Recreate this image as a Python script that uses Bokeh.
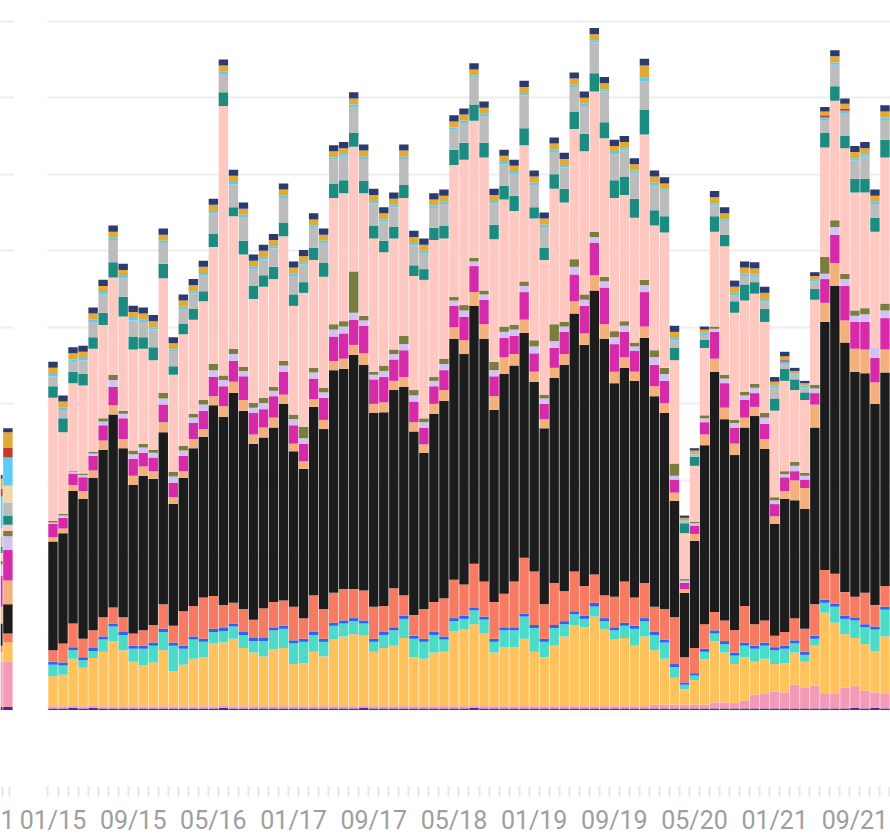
import pandas as pd
from bokeh.plotting import figure
from bokeh.models import (Range1d, FixedTicker, ColumnDataSource, Grid,
                          BoxAnnotation, GlobalInlineStyleSheet)
from bokeh.embed import file_html
from bokeh.resources import INLINE

# ---------------- data ----------------
months = list(pd.date_range("2015-01-01", periods=84, freq="MS").strftime("%m/%y"))
tick_labels = ["01/15", "09/15", "05/16", "01/17", "09/17", "05/18",
               "01/19", "09/19", "05/20", "01/21", "09/21"]

purple = [0.02, 0.02, 0.03, 0.02, 0.03, 0.02, 0.02, 0.02, 0.02, 0.02,
          0.02, 0.02, 0.02, 0.02, 0.02, 0.02, 0.02, 0.03, 0.02, 0.02,
          0.02, 0.02, 0.02, 0.02, 0.02, 0.02, 0.02, 0.02, 0.02, 0.02,
          0.02, 0.03, 0.02, 0.02, 0.02, 0.02, 0.02, 0.02, 0.02, 0.02,
          0.02, 0.02, 0.03, 0.02, 0.02, 0.02, 0.02, 0.02, 0.02, 0.02,
          0.02, 0.02, 0.02, 0.02, 0.02, 0.02, 0.02, 0.02, 0.02, 0.02,
          0.02, 0.02, 0.02, 0.02, 0.02, 0.02, 0.02, 0.02, 0.02, 0.02,
          0.02, 0.02, 0.02, 0.02, 0.02, 0.02, 0.02, 0.02, 0.02, 0.02,
          0.03, 0.02, 0.03, 0.02]
pink = [0.03, 0.03, 0.03, 0.03, 0.03, 0.03, 0.03, 0.03, 0.03, 0.03,
        0.03, 0.03, 0.03, 0.03, 0.03, 0.03, 0.03, 0.03, 0.03, 0.03,
        0.03, 0.03, 0.03, 0.03, 0.03, 0.03, 0.03, 0.03, 0.03, 0.03,
        0.03, 0.03, 0.03, 0.03, 0.03, 0.03, 0.03, 0.03, 0.03, 0.03,
        0.03, 0.03, 0.03, 0.03, 0.03, 0.03, 0.03, 0.03, 0.03, 0.03,
        0.03, 0.03, 0.03, 0.03, 0.03, 0.03, 0.03, 0.03, 0.03, 0.03,
        0.05, 0.05, 0.05, 0.05, 0.05, 0.05, 0.08, 0.08, 0.07, 0.10,
        0.18, 0.19, 0.22, 0.21, 0.31, 0.27, 0.30, 0.20, 0.19, 0.27,
        0.28, 0.23, 0.20, 0.19]
yellow = [0.39, 0.41, 0.61, 0.50, 0.62, 0.71, 0.85, 0.73, 0.58, 0.53,
          0.57, 0.73, 0.46, 0.54, 0.62, 0.64, 0.82, 0.82, 0.88, 0.76,
          0.70, 0.65, 0.74, 0.76, 0.55, 0.56, 0.71, 0.65, 0.87, 0.91,
          0.94, 0.91, 0.71, 0.76, 0.79, 0.89, 0.64, 0.62, 0.70, 0.71,
          0.98, 1.00, 1.06, 0.95, 0.70, 0.77, 0.77, 0.88, 0.71, 0.64,
          0.79, 0.91, 1.06, 1.03, 1.17, 1.00, 0.87, 0.89, 0.79, 0.91,
          0.71, 0.60, 0.35, 0.20, 0.32, 0.59, 0.80, 0.65, 0.51, 0.57,
          0.43, 0.46, 0.36, 0.38, 0.42, 0.34, 0.52, 1.05, 0.93, 0.70,
          0.63, 0.61, 0.54, 0.75]
turquoise = [0.15, 0.12, 0.11, 0.10, 0.09, 0.16, 0.19, 0.20, 0.17, 0.22,
             0.22, 0.24, 0.33, 0.21, 0.25, 0.20, 0.15, 0.15, 0.16, 0.17,
             0.15, 0.20, 0.25, 0.25, 0.27, 0.28, 0.22, 0.19, 0.18, 0.17,
             0.17, 0.16, 0.13, 0.17, 0.20, 0.25, 0.24, 0.22, 0.23, 0.16,
             0.13, 0.14, 0.18, 0.18, 0.14, 0.22, 0.22, 0.29, 0.31, 0.20,
             0.23, 0.16, 0.14, 0.11, 0.13, 0.11, 0.12, 0.16, 0.22, 0.20,
             0.20, 0.21, 0.14, 0.06, 0.06, 0.10, 0.10, 0.11, 0.11, 0.15,
             0.17, 0.17, 0.18, 0.19, 0.12, 0.09, 0.09, 0.13, 0.21, 0.20,
             0.23, 0.22, 0.28, 0.35]
blue = [0.04, 0.04, 0.04, 0.04, 0.04, 0.04, 0.04, 0.04, 0.04, 0.04,
        0.04, 0.04, 0.04, 0.04, 0.04, 0.04, 0.04, 0.04, 0.04, 0.04,
        0.04, 0.04, 0.04, 0.04, 0.04, 0.04, 0.04, 0.04, 0.04, 0.04,
        0.04, 0.04, 0.04, 0.04, 0.04, 0.04, 0.04, 0.04, 0.04, 0.04,
        0.04, 0.04, 0.04, 0.04, 0.04, 0.04, 0.04, 0.04, 0.04, 0.04,
        0.04, 0.04, 0.04, 0.04, 0.05, 0.04, 0.04, 0.04, 0.04, 0.04,
        0.04, 0.04, 0.04, 0.03, 0.03, 0.04, 0.04, 0.04, 0.04, 0.04,
        0.04, 0.04, 0.04, 0.04, 0.04, 0.04, 0.04, 0.04, 0.04, 0.04,
        0.04, 0.04, 0.04, 0.04]
salmon = [0.15, 0.25, 0.31, 0.24, 0.23, 0.25, 0.21, 0.19, 0.16, 0.20,
          0.23, 0.32, 0.22, 0.45, 0.40, 0.54, 0.43, 0.30, 0.27, 0.30,
          0.24, 0.39, 0.33, 0.33, 0.44, 0.27, 0.48, 0.39, 0.39, 0.41,
          0.38, 0.39, 0.42, 0.34, 0.51, 0.27, 0.27, 0.39, 0.39, 0.50,
          0.50, 0.41, 0.57, 0.46, 0.48, 0.44, 0.60, 0.73, 0.70, 0.45,
          0.55, 0.39, 0.52, 0.39, 0.37, 0.30, 0.40, 0.54, 0.37, 0.46,
          0.33, 0.40, 0.61, 0.33, 0.33, 0.32, 0.24, 0.27, 0.29, 0.48,
          0.28, 0.29, 0.15, 0.18, 0.29, 0.30, 0.41, 0.39, 0.39, 0.31,
          0.27, 0.41, 0.28, 0.27]
black = [1.42, 1.44, 1.73, 1.83, 1.99, 2.19, 2.52, 2.21, 1.94, 2.02,
         1.91, 2.25, 1.59, 1.74, 2.06, 2.10, 2.49, 2.46, 2.74, 2.59,
         2.30, 2.23, 2.28, 2.57, 2.03, 1.95, 2.46, 2.35, 2.91, 2.88,
         3.06, 2.95, 2.53, 2.53, 2.59, 2.72, 2.40, 2.04, 2.46, 2.58,
         3.15, 3.01, 3.37, 3.17, 2.51, 2.87, 2.82, 2.94, 2.48, 2.30,
         2.68, 2.96, 3.37, 3.15, 3.71, 3.35, 2.79, 2.79, 2.83, 3.20,
         2.75, 2.56, 1.52, 0.84, 1.40, 2.34, 3.14, 2.63, 2.29, 2.33,
         2.72, 2.24, 1.46, 1.74, 1.54, 1.57, 2.31, 3.24, 3.76, 3.26,
         2.94, 2.87, 2.63, 2.79]
peach = [0.06, 0.06, 0.08, 0.10, 0.10, 0.12, 0.12, 0.12, 0.12, 0.12,
         0.10, 0.13, 0.09, 0.09, 0.12, 0.10, 0.12, 0.14, 0.15, 0.14,
         0.12, 0.13, 0.13, 0.12, 0.10, 0.10, 0.10, 0.12, 0.12, 0.13,
         0.13, 0.15, 0.12, 0.13, 0.12, 0.13, 0.12, 0.11, 0.13, 0.14,
         0.15, 0.18, 0.18, 0.19, 0.18, 0.22, 0.15, 0.17, 0.13, 0.12,
         0.13, 0.14, 0.16, 0.15, 0.20, 0.19, 0.15, 0.14, 0.12, 0.15,
         0.13, 0.13, 0.11, 0.05, 0.09, 0.14, 0.17, 0.15, 0.15, 0.13,
         0.12, 0.13, 0.10, 0.10, 0.26, 0.27, 0.30, 0.25, 0.30, 0.29,
         0.30, 0.31, 0.28, 0.30]
magenta = [0.17, 0.14, 0.15, 0.18, 0.19, 0.20, 0.24, 0.27, 0.22, 0.18,
           0.18, 0.23, 0.19, 0.20, 0.21, 0.24, 0.25, 0.26, 0.27, 0.31,
           0.28, 0.24, 0.28, 0.30, 0.24, 0.23, 0.27, 0.29, 0.32, 0.33,
           0.33, 0.36, 0.32, 0.33, 0.28, 0.35, 0.27, 0.22, 0.23, 0.26,
           0.28, 0.31, 0.34, 0.32, 0.26, 0.25, 0.24, 0.36, 0.24, 0.20,
           0.26, 0.29, 0.35, 0.36, 0.42, 0.48, 0.36, 0.33, 0.27, 0.45,
           0.28, 0.29, 0.17, 0.08, 0.11, 0.16, 0.35, 0.32, 0.21, 0.23,
           0.18, 0.20, 0.16, 0.18, 0.12, 0.11, 0.15, 0.31, 0.37, 0.45,
           0.35, 0.36, 0.32, 0.41]
lavender = [0.02, 0.03, 0.02, 0.03, 0.03, 0.05, 0.09, 0.06, 0.06, 0.07,
            0.06, 0.08, 0.08, 0.07, 0.07, 0.08, 0.09, 0.08, 0.09, 0.07,
            0.07, 0.08, 0.07, 0.08, 0.08, 0.07, 0.08, 0.07, 0.09, 0.09,
            0.09, 0.07, 0.06, 0.08, 0.07, 0.08, 0.08, 0.07, 0.07, 0.08,
            0.07, 0.08, 0.06, 0.07, 0.08, 0.08, 0.08, 0.08, 0.09, 0.07,
            0.09, 0.07, 0.10, 0.08, 0.08, 0.08, 0.09, 0.08, 0.06, 0.09,
            0.10, 0.09, 0.05, 0.03, 0.03, 0.05, 0.04, 0.06, 0.06, 0.06,
            0.07, 0.08, 0.05, 0.04, 0.07, 0.05, 0.06, 0.07, 0.10, 0.09,
            0.08, 0.10, 0.14, 0.10]
olive = [0.02, 0.02, 0.01, 0.02, 0.02, 0.04, 0.07, 0.04, 0.05, 0.05,
         0.04, 0.07, 0.06, 0.06, 0.05, 0.06, 0.08, 0.06, 0.07, 0.05,
         0.06, 0.07, 0.05, 0.06, 0.06, 0.15, 0.06, 0.06, 0.07, 0.07,
         0.54, 0.06, 0.04, 0.07, 0.06, 0.11, 0.07, 0.05, 0.05, 0.07,
         0.05, 0.07, 0.05, 0.05, 0.11, 0.07, 0.06, 0.06, 0.08, 0.05,
         0.22, 0.06, 0.10, 0.07, 0.07, 0.06, 0.08, 0.06, 0.05, 0.07,
         0.09, 0.08, 0.16, 0.02, 0.02, 0.04, 0.03, 0.05, 0.04, 0.05,
         0.05, 0.06, 0.04, 0.04, 0.05, 0.04, 0.05, 0.22, 0.09, 0.07,
         0.07, 0.08, 0.00, 0.09]
lightpink = [1.61, 1.07, 1.15, 1.15, 1.35, 1.22, 1.27, 1.23, 1.32, 1.24,
             1.17, 1.50, 1.27, 1.46, 1.23, 1.29, 1.53, 3.52, 1.73, 1.47,
             1.36, 1.45, 1.41, 1.63, 1.42, 1.75, 1.41, 1.45, 1.65, 1.67,
             1.63, 1.60, 1.74, 1.48, 1.45, 1.80, 1.49, 1.81, 1.79, 1.57,
             1.72, 1.90, 1.79, 1.74, 1.60, 1.66, 1.49, 1.78, 1.59, 1.76,
             1.77, 1.56, 1.70, 1.87, 1.83, 1.81, 1.74, 1.65, 1.63, 1.90,
             1.63, 1.77, 1.35, 0.60, 0.73, 0.88, 1.24, 1.68, 1.40, 1.19,
             1.18, 1.19, 1.13, 1.18, 0.94, 0.95, 1.11, 1.43, 1.56, 1.64,
             1.54, 1.51, 1.51, 1.91]
teal = [0.15, 0.18, 0.15, 0.15, 0.15, 0.16, 0.20, 0.26, 0.17, 0.15,
        0.17, 0.19, 0.11, 0.14, 0.14, 0.13, 0.17, 0.18, 0.12, 0.18,
        0.17, 0.15, 0.16, 0.18, 0.15, 0.14, 0.16, 0.18, 0.19, 0.17,
        0.18, 0.16, 0.17, 0.15, 0.15, 0.17, 0.14, 0.14, 0.16, 0.17,
        0.20, 0.22, 0.21, 0.19, 0.19, 0.18, 0.20, 0.22, 0.15, 0.16,
        0.19, 0.18, 0.23, 0.23, 0.24, 0.21, 0.23, 0.24, 0.25, 0.32,
        0.20, 0.21, 0.16, 0.13, 0.12, 0.11, 0.20, 0.15, 0.15, 0.21,
        0.15, 0.17, 0.16, 0.16, 0.14, 0.10, 0.14, 0.19, 0.19, 0.16,
        0.18, 0.18, 0.18, 0.23]
gray = [0.13, 0.11, 0.13, 0.18, 0.20, 0.24, 0.29, 0.24, 0.21, 0.20,
        0.23, 0.27, 0.19, 0.19, 0.20, 0.21, 0.27, 0.24, 0.30, 0.31,
        0.22, 0.21, 0.24, 0.32, 0.24, 0.23, 0.26, 0.26, 0.31, 0.31,
        0.34, 0.29, 0.29, 0.25, 0.26, 0.34, 0.26, 0.21, 0.26, 0.28,
        0.26, 0.26, 0.35, 0.35, 0.28, 0.28, 0.28, 0.43, 0.29, 0.27,
        0.29, 0.28, 0.32, 0.36, 0.40, 0.40, 0.34, 0.34, 0.34, 0.37,
        0.33, 0.32, 0.10, 0.02, 0.03, 0.06, 0.14, 0.17, 0.08, 0.11,
        0.07, 0.10, 0.14, 0.06, 0.06, 0.07, 0.10, 0.17, 0.28, 0.30,
        0.24, 0.29, 0.18, 0.26]
wheat = [0.00, 0.00, 0.00, 0.00, 0.00, 0.00, 0.00, 0.00, 0.00, 0.00,
         0.00, 0.00, 0.00, 0.00, 0.00, 0.00, 0.00, 0.00, 0.00, 0.00,
         0.00, 0.00, 0.00, 0.00, 0.00, 0.00, 0.00, 0.00, 0.00, 0.00,
         0.00, 0.00, 0.00, 0.00, 0.00, 0.00, 0.00, 0.00, 0.00, 0.00,
         0.00, 0.00, 0.00, 0.00, 0.00, 0.00, 0.00, 0.00, 0.00, 0.00,
         0.00, 0.00, 0.00, 0.00, 0.00, 0.00, 0.00, 0.00, 0.00, 0.00,
         0.00, 0.00, 0.00, 0.00, 0.00, 0.00, 0.00, 0.00, 0.00, 0.00,
         0.00, 0.00, 0.00, 0.00, 0.00, 0.00, 0.00, 0.00, 0.00, 0.00,
         0.00, 0.00, 0.00, 0.00]
lightblue = [0.03, 0.03, 0.03, 0.03, 0.03, 0.03, 0.03, 0.03, 0.03, 0.03,
             0.03, 0.03, 0.03, 0.03, 0.03, 0.03, 0.03, 0.03, 0.03, 0.03,
             0.03, 0.03, 0.03, 0.03, 0.03, 0.03, 0.03, 0.03, 0.03, 0.03,
             0.03, 0.03, 0.03, 0.03, 0.03, 0.03, 0.03, 0.03, 0.03, 0.03,
             0.03, 0.03, 0.03, 0.03, 0.03, 0.03, 0.03, 0.03, 0.03, 0.03,
             0.03, 0.03, 0.03, 0.03, 0.03, 0.03, 0.03, 0.03, 0.03, 0.05,
             0.03, 0.03, 0.03, 0.02, 0.02, 0.03, 0.03, 0.03, 0.03, 0.03,
             0.03, 0.03, 0.03, 0.03, 0.02, 0.02, 0.03, 0.03, 0.03, 0.03,
             0.03, 0.03, 0.03, 0.03]
red = [0.00, 0.00, 0.00, 0.00, 0.00, 0.00, 0.00, 0.00, 0.00, 0.00,
       0.00, 0.00, 0.00, 0.00, 0.00, 0.00, 0.00, 0.00, 0.00, 0.00,
       0.00, 0.00, 0.00, 0.00, 0.00, 0.00, 0.00, 0.00, 0.00, 0.00,
       0.00, 0.00, 0.00, 0.00, 0.00, 0.00, 0.00, 0.00, 0.00, 0.00,
       0.00, 0.00, 0.00, 0.00, 0.00, 0.00, 0.00, 0.00, 0.00, 0.00,
       0.00, 0.00, 0.00, 0.00, 0.00, 0.00, 0.00, 0.00, 0.00, 0.00,
       0.00, 0.00, 0.00, 0.00, 0.00, 0.00, 0.00, 0.00, 0.00, 0.00,
       0.00, 0.00, 0.00, 0.02, 0.00, 0.00, 0.00, 0.03, 0.00, 0.03,
       0.00, 0.00, 0.00, 0.00]
gold = [0.08, 0.08, 0.08, 0.08, 0.08, 0.08, 0.08, 0.08, 0.08, 0.08,
        0.08, 0.08, 0.08, 0.08, 0.08, 0.08, 0.08, 0.08, 0.08, 0.08,
        0.08, 0.08, 0.08, 0.08, 0.08, 0.08, 0.08, 0.08, 0.08, 0.08,
        0.08, 0.08, 0.08, 0.08, 0.08, 0.08, 0.08, 0.08, 0.08, 0.08,
        0.08, 0.08, 0.08, 0.08, 0.08, 0.08, 0.08, 0.08, 0.08, 0.08,
        0.08, 0.08, 0.08, 0.08, 0.08, 0.08, 0.08, 0.08, 0.08, 0.16,
        0.08, 0.08, 0.08, 0.03, 0.03, 0.04, 0.08, 0.08, 0.08, 0.08,
        0.08, 0.08, 0.05, 0.05, 0.03, 0.03, 0.04, 0.05, 0.08, 0.06,
        0.08, 0.08, 0.08, 0.08]
navy = [0.08, 0.08, 0.08, 0.08, 0.08, 0.08, 0.08, 0.08, 0.08, 0.08,
        0.08, 0.08, 0.08, 0.08, 0.08, 0.08, 0.08, 0.08, 0.08, 0.08,
        0.08, 0.08, 0.08, 0.08, 0.08, 0.08, 0.08, 0.08, 0.08, 0.08,
        0.08, 0.08, 0.08, 0.08, 0.08, 0.08, 0.08, 0.08, 0.08, 0.08,
        0.08, 0.08, 0.08, 0.08, 0.08, 0.08, 0.08, 0.08, 0.08, 0.08,
        0.08, 0.08, 0.08, 0.08, 0.08, 0.08, 0.08, 0.08, 0.08, 0.09,
        0.08, 0.08, 0.08, 0.03, 0.03, 0.04, 0.08, 0.08, 0.08, 0.08,
        0.08, 0.08, 0.06, 0.06, 0.04, 0.03, 0.05, 0.06, 0.08, 0.07,
        0.08, 0.08, 0.08, 0.08]

# neighbouring panel: only its last two bars are in view, cut by the left edge
left_panel = {
    "purple": [0.04, 0.04], "pink": [0.59, 0.59], "yellow": [0.13, 0.25],
    "turquoise": [0.00, 0.00], "blue": [0.00, 0.00], "salmon": [0.08, 0.12],
    "black": [0.29, 0.38], "peach": [0.22, 0.31], "magenta": [0.40, 0.40],
    "lavender": [0.15, 0.18], "olive": [0.05, 0.07], "lightpink": [0.10, 0.08],
    "teal": [0.08, 0.12], "gray": [0.14, 0.17], "wheat": [0.10, 0.22],
    "lightblue": [0.42, 0.37], "red": [0.10, 0.13], "gold": [0.13, 0.20],
    "navy": [0.05, 0.05],
}
left_label = "1"

series = ["purple", "pink", "yellow", "turquoise", "blue", "salmon", "black",
          "peach", "magenta", "lavender", "olive", "lightpink", "teal", "gray",
          "wheat", "lightblue", "red", "gold", "navy"]
colors = ["#4B2A8C", "#F49AB6", "#FFC25C", "#4DDBC9", "#2D63F2", "#F77B63",
          "#1C1C1C", "#F4B07A", "#D62AA8", "#D3C1F3", "#7B7D3E", "#FFC8C1",
          "#1C8B80", "#BCBCBC", "#F0D8A8", "#5BCDF5", "#C23B2C", "#E1A935",
          "#2D3A6D"]

main_vals = dict(purple=purple, pink=pink, yellow=yellow, turquoise=turquoise,
                 blue=blue, salmon=salmon, black=black, peach=peach,
                 magenta=magenta, lavender=lavender, olive=olive,
                 lightpink=lightpink, teal=teal, gray=gray, wheat=wheat,
                 lightblue=lightblue, red=red, gold=gold, navy=navy)

# ---------------- layout constants ----------------
Y0, Y1 = -1.0, 9.27
X0, X1 = -5.237, 83.55          # whole canvas, one unit = one month
MAIN_START = -0.58              # left edge of the main panel
LEFT_END = -3.94                # right edge of the neighbouring panel
LEFT_X = [-5.5, -4.5]
LEFT_TICKS = [-5.04, -4.29]
LEFT_LABEL_AT = -4.86
GRID = "#EEEEEE"
AXIS = "#E6E6E6"
LABEL = "#9E9E9E"

n = len(months)
src = ColumnDataSource(dict(x=list(range(n)), month=months, **main_vals))
lsrc = ColumnDataSource(dict(x=LEFT_X, **left_panel))

p = figure(width=890, height=837, x_range=Range1d(X0, X1),
           y_range=Range1d(Y0, Y1), output_backend="svg",
           toolbar_location=None, y_axis_location=None,
           min_border_left=0, min_border_right=0, min_border_top=0,
           min_border_bottom=49)
p.stylesheets = [GlobalInlineStyleSheet(
    css="html, body { margin: 0 !important; padding: 0; overflow: hidden; }")]

p.xgrid.visible = False
p.ygrid.visible = False
# horizontal grid; the line at -1 doubles as the (very light) axis line
p.add_layout(Grid(dimension=1, ticker=FixedTicker(ticks=list(range(-1, 10))),
                  grid_line_color=GRID, grid_line_width=2))
# blank strip between the two panels
p.add_layout(BoxAnnotation(left=LEFT_END, right=MAIN_START, fill_color="white",
                           fill_alpha=1.0, line_color=None, level="underlay"))

p.vbar_stack(series, x="x", width=0.94, source=src,
             fill_color=colors, line_color=None)
p.vbar_stack(series, x="x", width=0.94, source=lsrc,
             fill_color=colors, line_color=None)

label_pos = [months.index(t) for t in tick_labels]
overrides = {pos: lab for pos, lab in zip(label_pos, tick_labels)}
overrides[LEFT_LABEL_AT] = left_label
ax = p.xaxis[0]
ax.ticker = FixedTicker(ticks=[LEFT_LABEL_AT] + label_pos,
                        minor_ticks=LEFT_TICKS + [i - 0.5 for i in range(n + 1)])
ax.major_label_overrides = overrides
ax.major_tick_out = 0
ax.major_tick_in = 0
ax.minor_tick_out = 10
ax.minor_tick_in = 0
ax.minor_tick_line_color = AXIS
ax.minor_tick_line_width = 2
ax.axis_line_color = None
ax.major_label_text_font = "Roboto"
ax.major_label_text_font_size = "25px"
ax.major_label_text_color = LABEL
ax.major_label_standoff = 9
p.outline_line_color = None
p.background_fill_color = "white"
p.border_fill_color = "white"

open("out.html", "w").write(file_html(p, INLINE))
